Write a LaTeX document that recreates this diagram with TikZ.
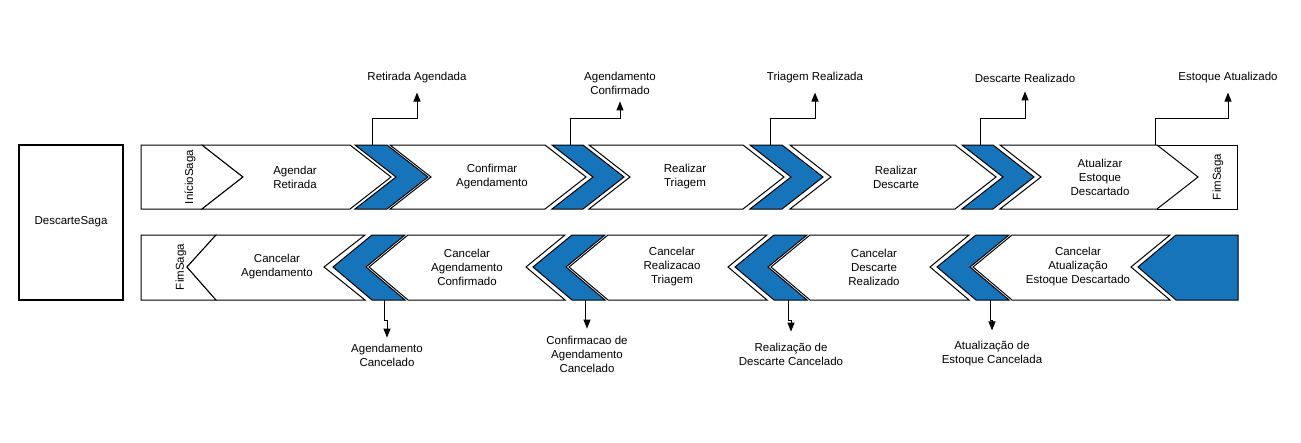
\documentclass[tikz,border=0pt]{standalone}
\usepackage{fontspec}
\setmainfont{Liberation Sans}
\usetikzlibrary{arrows.meta}
\usetikzlibrary{calc}
\definecolor{azulsaga}{RGB}{22,117,186}

\begin{document}
\begin{tikzpicture}[
        x=1pt, y=-1pt,
        font=\fontsize{11.5}{14}\selectfont,
        etapa/.style={draw, fill=white, line width=1pt},
        transicao/.style={draw, fill=azulsaga, line width=1pt},
        rotulo/.style={align=center, inner sep=1pt},
        evento/.style={-{Triangle[width=7pt, length=9pt]}, line width=1pt}
    ]
        \useasboundingbox (0,0) rectangle (1301,442);

        % --- Parametros das duas faixas ---
        \def\ya{145} \def\yb{209} \def\yma{177} % faixa de cima
        \def\yc{235} \def\yd{300} \def\ymb{267} % faixa de baixo
        \def\profa{41} % profundidade das setas de cima
        \def\profb{39} % profundidade das setas de baixo
        % seta para a direita: estilo, x esquerdo, x direito
        \def\setadir#1#2#3{\draw[#1] (#2,\ya) -- (#3,\ya) -- (#3+\profa,\yma) -- (#3,\yb) -- (#2,\yb) -- (#2+\profa,\yma) -- cycle;}
        % seta para a esquerda: estilo, x esquerdo, x direito
        \def\setaesq#1#2#3{\draw[#1] (#2,\yc) -- (#3,\yc) -- (#3-\profb,\ymb) -- (#3,\yd) -- (#2,\yd) -- (#2-\profb,\ymb) -- cycle;}

        % --- Caixa da saga ---
        \draw[line width=1.3pt] (19,145) rectangle (123,300);
        \node[rotulo] (saga) at (71,222) {DescarteSaga};

        % --- Faixa de cima (fluxo normal) ---
        \draw[etapa] (141,\ya) -- (202,\ya) -- (243,\yma) -- (202,\yb) -- (141,\yb) -- cycle;
        \setadir{etapa}{202}{350}
        \setadir{transicao}{355}{387}
        \setadir{etapa}{390}{545}
        \setadir{transicao}{552}{583}
        \setadir{etapa}{589}{743}
        \setadir{transicao}{750}{782}
        \setadir{etapa}{790}{955}
        \setadir{transicao}{962}{993}
        \draw[etapa] (1157,\ya) rectangle (1237,\yb);
        \setadir{etapa}{1000}{1157}

        \node[rotulo, rotate=90] (inicio) at (190,\yma) {InícioSaga};
        \node[rotulo] (agendar) at (295,\yma) {Agendar\\Retirada};
        \node[rotulo] (confirmar) at (492,\yma) {Confirmar\\Agendamento};
        \node[rotulo] (triagem) at (685,\yma) {Realizar\\Triagem};
        \node[rotulo] (descarte) at (896,\yma) {Realizar\\Descarte};
        \node[rotulo] (atualizar) at (1100,\yma) {Atualizar\\Estoque\\Descartado};
        \node[rotulo, rotate=90] (fima) at (1218,\yma) {FimSaga};

        % --- Faixa de baixo (compensacao) ---
        \draw[etapa] (141,\yc) -- (216,\yc) -- (187,\ymb) -- (216,\yd) -- (141,\yd) -- cycle;
        \draw[etapa] (216,\yc) -- (365,\yc) -- (324,\ymb) -- (365,\yd) -- (216,\yd) -- (187,\ymb) -- cycle;
        \setaesq{transicao}{372}{405}
        \setaesq{etapa}{408}{565}
        \setaesq{transicao}{572}{605}
        \setaesq{etapa}{608}{767}
        \setaesq{transicao}{774}{807}
        \setaesq{etapa}{810}{969}
        \setaesq{transicao}{976}{1009}
        \setaesq{etapa}{1012}{1170}
        \draw[transicao] (1176,\yc) -- (1238,\yc) -- (1238,\yd) -- (1176,\yd) -- (1138,\ymb) -- cycle;

        \node[rotulo, rotate=90] (fimb) at (181,\ymb) {FimSaga};
        \node[rotulo] (cagendar) at (277,\ymb) {Cancelar\\Agendamento};
        \node[rotulo] (cconfirmar) at (467,\ymb) {Cancelar\\Agendamento\\Confirmado};
        \node[rotulo] (ctriagem) at (672,\ymb) {Cancelar\\Realizacao\\Triagem};
        \node[rotulo] (cdescarte) at (874,\ymb) {Cancelar\\Descarte\\Realizado};
        \node[rotulo] (catualizar) at (1078,\ymb) {Cancelar\\Atualização\\Estoque Descartado};

        % --- Eventos publicados ---
        \coordinate (t1) at (372,\ya);
        \coordinate (t2) at (570,\ya);
        \coordinate (t3) at (770,\ya);
        \coordinate (t4) at (980,\ya);
        \coordinate (t5) at (1155,\ya);
        \node[rotulo] (ev1) at (417,78) {Retirada Agendada};
        \node[rotulo] (ev2) at (620,83) {Agendamento\\Confirmado};
        \node[rotulo] (ev3) at (815,78) {Triagem Realizada};
        \node[rotulo] (ev4) at (1025,78) {Descarte Realizado};
        \node[rotulo] (ev5) at (1228,78) {Estoque Atualizado};
        \draw[evento] (t1) -- ++(0,-27) -| ($(ev1.south)+(0,8)$);
        \draw[evento] (t2) -- ++(0,-27) -| ($(ev2.south)+(0,6)$);
        \draw[evento] (t3) -- ++(0,-27) -| ($(ev3.south)+(0,8)$);
        \draw[evento] (t4) -- ++(0,-27) -| ($(ev4.south)+(0,8)$);
        \draw[evento] (t5) -- ++(0,-27) -| ($(ev5.south)+(0,8)$);

        % --- Eventos de compensacao ---
        \coordinate (b1) at (384,\yd);
        \coordinate (b2) at (585,\yd);
        \coordinate (b3) at (788,\yd);
        \coordinate (b4) at (990,\yd);
        \node[rotulo] (cev1) at (387,355) {Agendamento\\Cancelado};
        \node[rotulo] (cev2) at (587,354) {Confirmacao de\\Agendamento\\Cancelado};
        \node[rotulo] (cev3) at (791,354) {Realização de\\Descarte Cancelado};
        \node[rotulo] (cev4) at (992,354) {Atualização de\\Estoque Cancelada};
        \draw[evento] (b1) -- ++(0,20) -| ($(cev1.north)+(0,-5)$);
        \draw[evento] (b2) -- ++(0,20) -| ($(cev2.north)+(0,-6)$);
        \draw[evento] (b3) -- ++(0,20) -| ($(cev3.north)+(0,-10)$);
        \draw[evento] (b4) -- ++(0,20) -| ($(cev4.north)+(0,-10)$);

    \end{tikzpicture}
\end{document}
